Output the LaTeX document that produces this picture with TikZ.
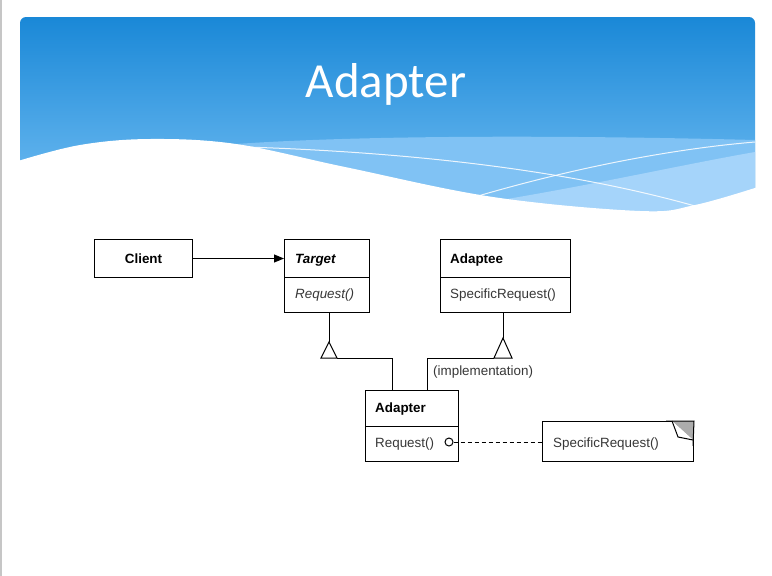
\documentclass[tikz,border=0pt]{standalone}
\usepackage{fontspec}
\setmainfont{Liberation Sans}
\newfontfamily\titlefont{Carlito}
\usetikzlibrary{arrows.meta}
\definecolor{bantop}{RGB}{26,136,215}
\definecolor{banbot}{RGB}{118,192,244}
\definecolor{bandA}{RGB}{128,194,244}
\definecolor{bandB}{RGB}{165,212,250}
\definecolor{txtgray}{RGB}{55,55,55}
\tikzset{
  cbox/.style={draw, line width=1pt, fill=white, inner sep=0pt},
  lbl/.style={font=\fontsize{13.4}{15}\selectfont, text=txtgray, inner sep=0pt, anchor=base west},
  blbl/.style={font=\fontsize{13.4}{15}\selectfont\bfseries, text=black, inner sep=0pt},
  conn/.style={line width=1pt},
  wline/.style={white, line width=1pt, opacity=0.85}
}
\begin{document}
\begin{tikzpicture}[x=1pt,y=-1pt]
\useasboundingbox (0,0) rectangle (772,576);
\fill[white] (0,0) rectangle (772,576);
\fill[gray!45] (0,0) rectangle (2,576);
% banner
\shade[top color=bantop, bottom color=banbot, rounded corners=6pt]
  (20,215) -- (20,17) -- (755,17) -- (755,215) [sharp corners] -- cycle;
\fill[bandA] (236,144) .. controls (380,134) and (600,136) .. (755,140) -- (755,215) -- (236,215) -- cycle;
\fill[bandB] (470,205) .. controls (580,188) and (680,165) .. (755,152) -- (755,215) -- (470,215) -- cycle;
\draw[wline] (246,147) .. controls (400,152) and (560,168) .. (695,206);
\draw[wline] (478,196) .. controls (560,172) and (660,150) .. (755,142);
\fill[white] plot[smooth, tension=0.6] coordinates {(18,161) (80,145) (150,139) (236,144) (345,167) (493,197) (640,211) (695,205) (758,187)}
  -- (758,222) -- (18,222) -- cycle;
\node[font=\titlefont\fontsize{49}{50}\selectfont, text=white, anchor=base, inner sep=0pt] (title) at (386,97) {Adapter};
% Client
\node[cbox, minimum width=98pt, minimum height=38pt, anchor=north west] (client) at (94,239) {};
\node[blbl] (clientT) at (client.center) {Client};
% Target
\node[cbox, minimum width=85pt, minimum height=38pt, anchor=north west] (targetN) at (284,239) {};
\node[cbox, minimum width=85pt, minimum height=35pt, anchor=north west] (targetM) at (284,277) {};
\node[blbl, anchor=base west] (targetT) at (295,263) {\itshape Target};
\node[lbl, font=\fontsize{13.4}{15}\selectfont\itshape] (targetR) at (295,298) {Request()};
% Adaptee
\node[cbox, minimum width=130pt, minimum height=38pt, anchor=north west] (adapteeN) at (440,239) {};
\node[cbox, minimum width=130pt, minimum height=35pt, anchor=north west] (adapteeM) at (440,277) {};
\node[blbl, anchor=base west] (adapteeT) at (450,263) {Adaptee};
\node[lbl] (adapteeR) at (450,298) {SpecificRequest()};
% Adapter
\node[cbox, minimum width=93pt, minimum height=36pt, anchor=north west] (adapterN) at (365,390) {};
\node[cbox, minimum width=93pt, minimum height=35pt, anchor=north west] (adapterM) at (365,426) {};
\node[blbl, anchor=base west] (adapterT) at (375,412) {Adapter};
\node[lbl] (adapterR) at (375,447) {Request()};
% Note
\node[cbox, minimum width=151pt, minimum height=40pt, anchor=north west] (note) at (542,421) {};
\node[lbl] (noteT) at (553,447) {SpecificRequest()};
\fill[gray!65] (672,421) -- (note.north east) -- (693,440) -- cycle;
\draw[conn, fill=white, line join=round] (672,421) -- (678,437) -- (693,440);
\draw[conn] (666,421) -- (note.north east) -- (693,446);
% Client -> Target
\draw[conn, -{Triangle[length=10pt,width=8pt]}] (client.east) -- (client.east -| targetN.west);
% Target generalization
\coordinate (ta) at (329,342);
\coordinate (adL) at (392,390);
\draw[conn] (ta |- targetM.south) -- (ta);
\draw[conn, fill=white] (321,358) -- (ta) -- (337,358) -- cycle;
\draw[conn] (337,358) -| (adL);
% Adaptee implementation
\coordinate (aa) at (503,338);
\coordinate (adR) at (427,390);
\draw[conn] (aa |- adapteeM.south) -- (aa);
\draw[conn, fill=white] (494,358) -- (aa) -- (512,358) -- cycle;
\draw[conn] (494,358) -| (adR);
\node[lbl] (impl) at (433,375) {(implementation)};
% Request -> note
\node[draw, conn, circle, minimum size=8pt, inner sep=0pt, fill=white] (dot) at (449,442) {};
\draw[conn, dash pattern=on 4pt off 3pt] (dot.east) -- (dot.east -| note.west);
\end{tikzpicture}
\end{document}
